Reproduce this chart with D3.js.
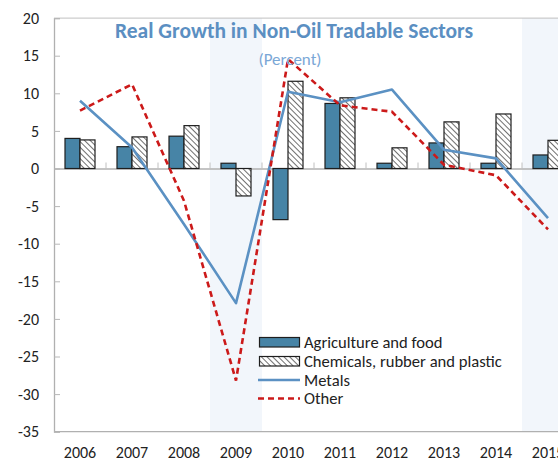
<!DOCTYPE html>
<html>
<head>
<meta charset="utf-8">
<script src="https://cdn.jsdelivr.net/npm/d3@7"></script>
<style>
  html, body { margin: 0; padding: 0; background: #fff; overflow: hidden; }
  svg { display: block; }
  text { font-family: Carlito, Calibri, "Noto Sans", sans-serif; }
</style>
</head>
<body>
<svg id="chart" width="558" height="461"></svg>
<script>
const years = ["2006","2007","2008","2009","2010","2011","2012","2013","2014","2015"];
const agriculture = [4.0, 2.9, 4.3, 0.7, -6.8, 8.65, 0.7, 3.4, 0.7, 1.8];
const chemicals = [3.8, 4.2, 5.7, -3.65, 11.6, 9.4, 2.75, 6.2, 7.25, 3.75];
const metals = [9.0, 2.8, -7.4, -17.9, 10.2, 8.8, 10.5, 2.5, 1.35, -6.6];
const other = [7.7, 11.2, -4.3, -28.2, 14.55, 8.4, 7.55, 0.5, -0.9, -8.1];
const shadedYears = ["2009", "2015"];
const yTicks = [20, 15, 10, 5, 0, -5, -10, -15, -20, -25, -30, -35];
const seriesNames = ["Agriculture and food", "Chemicals, rubber and plastic", "Metals", "Other"];
const titleText = "Real Growth in Non-Oil Tradable Sectors";
const subtitleText = "(Percent)";

const svg = d3.select("#chart");
const pLeft = 54, pRight = 574, pTop = 18.1, pBottom = 431.7;

const x = d3.scaleBand().domain(years).range([pLeft, pRight]).padding(0);
const inner = d3.scaleBand().domain(["agri", "chem"]).range([11, 41]).padding(0);
const y = d3.scaleLinear().domain([-35, 20]).range([pBottom, pTop]);

// hatch pattern
const defs = svg.append("defs");
const pat = defs.append("pattern")
  .attr("id", "hatch").attr("patternUnits", "userSpaceOnUse")
  .attr("width", 4).attr("height", 4)
  .attr("patternTransform", "rotate(-45)");
pat.append("rect").attr("width", 4).attr("height", 4).attr("fill", "#fff");
pat.append("line").attr("x1", 0).attr("y1", 0).attr("x2", 0).attr("y2", 4)
  .attr("stroke", "#222").attr("stroke-width", 1.3);

const clip = defs.append("clipPath").attr("id", "plotclip");
clip.append("rect").attr("x", pLeft).attr("y", pTop).attr("width", pRight - pLeft).attr("height", pBottom - pTop);

// shaded bands
svg.append("g").selectAll("rect").data(shadedYears).join("rect")
  .attr("x", d => x(d)).attr("y", pTop)
  .attr("width", x.bandwidth()).attr("height", pBottom - pTop)
  .attr("fill", "#f2f6fb");

// frame: top border and bottom border
svg.append("line").attr("x1", pLeft).attr("x2", pRight).attr("y1", pTop).attr("y2", pTop)
  .attr("stroke", "#c0c0c0").attr("stroke-width", 1);
svg.append("line").attr("x1", pLeft).attr("x2", pRight).attr("y1", pBottom).attr("y2", pBottom)
  .attr("stroke", "#b0b0b0").attr("stroke-width", 1.3);

// y axis
const yAxis = d3.axisRight(y).tickValues(yTicks).tickSize(6).tickFormat("");
const yg = svg.append("g").attr("transform", `translate(${pLeft},0)`).call(yAxis);
yg.select(".domain").attr("stroke", "#b0b0b0").attr("stroke-width", 1.3);
yg.selectAll(".tick line").attr("stroke", "#b8b8b8");
svg.append("g").selectAll("text").data(yTicks).join("text")
  .attr("x", 39).attr("y", d => y(d)).attr("dy", "0.35em")
  .attr("text-anchor", "end").attr("font-size", 16).attr("fill", "#222")
  .text(d => d);

// zero line with category ticks
const xAxis = d3.axisTop(x).tickSize(0).tickFormat("");
const xg = svg.append("g").attr("transform", `translate(0,${y(0)})`).call(xAxis);
xg.select(".domain").attr("stroke", "#b0b0b0").attr("stroke-width", 1.3);
svg.append("g").selectAll("line").data(years.slice(1)).join("line")
  .attr("x1", d => x(d)).attr("x2", d => x(d))
  .attr("y1", y(0)).attr("y2", y(0) - 6)
  .attr("stroke", "#c0c0c0");

// category labels
svg.append("g").selectAll("text").data(years).join("text")
  .attr("x", d => x(d) + x.bandwidth() / 2).attr("y", 452).attr("dy", "0.35em")
  .attr("text-anchor", "middle").attr("font-size", 16).attr("fill", "#222")
  .text(d => d);

// bars
const plot = svg.append("g").attr("clip-path", "url(#plotclip)");
plot.append("g").selectAll("rect").data(years.map((yr, i) => ({yr, v: agriculture[i]}))).join("rect")
  .attr("x", d => x(d.yr) + inner("agri"))
  .attr("y", d => y(Math.max(0, d.v)))
  .attr("width", inner.bandwidth())
  .attr("height", d => Math.abs(y(d.v) - y(0)))
  .attr("fill", "#4784a6").attr("stroke", "#1e1e1e").attr("stroke-width", 1.2);
plot.append("g").selectAll("rect").data(years.map((yr, i) => ({yr, v: chemicals[i]}))).join("rect")
  .attr("x", d => x(d.yr) + inner("chem"))
  .attr("y", d => y(Math.max(0, d.v)))
  .attr("width", inner.bandwidth())
  .attr("height", d => Math.abs(y(d.v) - y(0)))
  .attr("fill", "url(#hatch)").attr("stroke", "#1e1e1e").attr("stroke-width", 1.2);

// lines
const line = d3.line().x((d, i) => x(years[i]) + x.bandwidth() / 2).y(d => y(d));
plot.append("path").datum(metals).attr("d", line)
  .attr("fill", "none").attr("stroke", "#5b91c3").attr("stroke-width", 2.6)
  .attr("stroke-linejoin", "round");
plot.append("path").datum(other).attr("d", line)
  .attr("fill", "none").attr("stroke", "#cc1a1a").attr("stroke-width", 2.6)
  .attr("stroke-dasharray", "6,4");

// title
svg.append("text").attr("x", 294).attr("y", 30).attr("dy", "0.35em")
  .attr("text-anchor", "middle").attr("font-size", 21.5).attr("font-weight", "bold")
  .attr("fill", "#5b8fc2").text(titleText);
svg.append("text").attr("x", 290).attr("y", 59).attr("dy", "0.35em")
  .attr("text-anchor", "middle").attr("font-size", 17)
  .attr("fill", "#7aa7d6").text(subtitleText);

// legend
const lg = svg.append("g");
const rowY = [342, 361, 380, 398.5];
lg.append("rect").attr("x", 259.5).attr("y", rowY[0] - 4.5).attr("width", 40).attr("height", 9.5)
  .attr("fill", "#4784a6").attr("stroke", "#1e1e1e").attr("stroke-width", 1.2);
lg.append("rect").attr("x", 259.5).attr("y", rowY[1] - 4.5).attr("width", 40).attr("height", 9.5)
  .attr("fill", "url(#hatch)").attr("stroke", "#1e1e1e").attr("stroke-width", 1.2);
lg.append("line").attr("x1", 258).attr("x2", 300).attr("y1", rowY[2]).attr("y2", rowY[2])
  .attr("stroke", "#5b91c3").attr("stroke-width", 2.6);
lg.append("line").attr("x1", 258).attr("x2", 300).attr("y1", rowY[3]).attr("y2", rowY[3])
  .attr("stroke", "#cc1a1a").attr("stroke-width", 2.6).attr("stroke-dasharray", "6,4");
lg.selectAll("text").data(seriesNames).join("text")
  .attr("x", 304).attr("y", (d, i) => rowY[i]).attr("dy", "0.35em")
  .attr("font-size", 16.6).attr("fill", "#222").text(d => d);
</script>
</body>
</html>
